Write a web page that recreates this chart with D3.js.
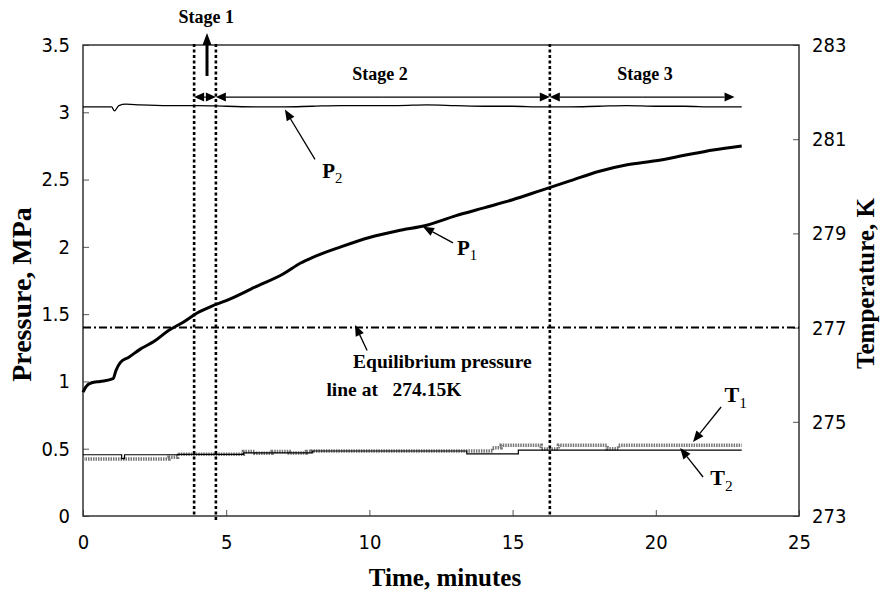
<!DOCTYPE html>
<html lang="en">
<head>
<meta charset="utf-8">
<title>Pressure and temperature vs time</title>
<script src="https://cdn.jsdelivr.net/npm/d3@7"></script>
<style>
  body { margin: 0; background: #fff; }
</style>
</head>
<body>
<script>

// -- Data -- //

// P1, reactor pressure (MPa)
let p1Time = [0, 0.1, 0.3, 0.6, 1.05, 1.15, 1.3, 1.6, 2, 2.5, 3, 3.5, 4, 4.5, 5, 6, 7, 7.6, 8, 9, 10, 11, 12, 13, 14, 15, 16, 17, 18, 19, 20, 21, 22, 23];
let p1Val  = [0.92, 0.96, 0.99, 1.0, 1.02, 1.08, 1.14, 1.18, 1.24, 1.30, 1.38, 1.44, 1.51, 1.56, 1.60, 1.70, 1.80, 1.88, 1.92, 2.0, 2.07, 2.12, 2.16, 2.23, 2.29, 2.35, 2.42, 2.49, 2.56, 2.61, 2.64, 2.68, 2.72, 2.75];

// P2, supply pressure (MPa)
let p2Time = [0, 1.0, 1.1, 1.25, 1.5, 2, 3, 4, 5, 6, 7, 8, 9, 10, 11, 12, 13, 14, 15, 16, 17, 18, 19, 20, 21, 22, 23];
let p2Val  = [3.04, 3.04, 3.01, 3.05, 3.06, 3.055, 3.05, 3.05, 3.045, 3.04, 3.04, 3.045, 3.05, 3.05, 3.05, 3.055, 3.05, 3.045, 3.045, 3.04, 3.04, 3.045, 3.05, 3.045, 3.045, 3.04, 3.04];

// T1 and T2 (K), stepped readings
let t1Time = [0, 3.0, 3.3, 5.6, 6.0, 6.6, 7.2, 7.8, 8.0, 14.3, 14.6, 16.0, 16.6, 18.3, 18.7, 23.0];
let t1Val  = [274.21, 274.25, 274.31, 274.37, 274.33, 274.37, 274.34, 274.37, 274.38, 274.45, 274.50, 274.42, 274.50, 274.43, 274.50, 274.50];
let t2Time = [0, 1.35, 1.45, 3.3, 5.6, 8.0, 13.4, 15.2, 23.0];
let t2Val  = [274.30, 274.22, 274.30, 274.31, 274.34, 274.38, 274.32, 274.40, 274.40];

let eqPressure = 1.4;
let stageBounds = [3.88, 4.64, 16.3];
let stageEnd = 22.75;
let stageNames = ["Stage 1", "Stage 2", "Stage 3"];

let timeTicks = [0, 5, 10, 15, 20, 25];
let pressureTicks = [0, 0.5, 1, 1.5, 2, 2.5, 3, 3.5];
let tempTicks = [273, 275, 277, 279, 281, 283];

// -- Setting -- //

let canvasWidth = 886;
let canvasHeight = 598;
let plotLeft = 83, plotRight = 799, plotTop = 45, plotBottom = 516;

let serif = "'Liberation Serif', 'Times New Roman', serif";
let narrow = "'DejaVu Sans Condensed', 'Liberation Sans Narrow', sans-serif";

const canvas = d3.select("body")
    .append("svg")
    .attr("width", canvasWidth)
    .attr("height", canvasHeight)
    .style("background", "#fff");

let x = d3.scaleLinear().domain([0, 25]).range([plotLeft, plotRight]);
let yP = d3.scaleLinear().domain([0, 3.5]).range([plotBottom, plotTop]);
let yT = d3.scaleLinear().domain([273, 283]).range([plotBottom, plotTop]);

// arrow with filled head at (x2, y2)
let arrow = function(g, x1, y1, x2, y2, len, wid, sw) {
    let a = Math.atan2(y2 - y1, x2 - x1);
    let bx = x2 - len * Math.cos(a), by = y2 - len * Math.sin(a);
    g.append("line")
        .attr("x1", x1).attr("y1", y1).attr("x2", bx).attr("y2", by)
        .attr("stroke", "black").attr("stroke-width", sw);
    let px = -Math.sin(a) * wid / 2, py = Math.cos(a) * wid / 2;
    g.append("path")
        .attr("d", `M${x2},${y2}L${bx + px},${by + py}L${bx - px},${by - py}Z`)
        .attr("fill", "black");
};

let styleTicks = function(g, size) {
    g.select(".domain").remove();
    g.selectAll(".tick line").attr("stroke", "#555");
    g.selectAll(".tick text")
        .attr("font-family", narrow)
        .attr("font-stretch", "condensed")
        .attr("font-size", size)
        .attr("fill", "black");
};

// -- Axes -- //

canvas.append("g")
    .attr("transform", `translate(0,${plotBottom})`)
    .call(d3.axisBottom(x).tickValues(timeTicks).tickSize(-6).tickPadding(19).tickFormat(d3.format("d")))
    .call(g => styleTicks(g, 20));

canvas.append("g")
    .attr("transform", `translate(${plotLeft},0)`)
    .call(d3.axisLeft(yP).tickValues(pressureTicks).tickSize(-6).tickPadding(13).tickFormat(d => String(d)))
    .call(g => styleTicks(g, 20));

canvas.append("g")
    .attr("transform", `translate(${plotRight},0)`)
    .call(d3.axisRight(yT).tickValues(tempTicks).tickSize(-6).tickPadding(13).tickFormat(d3.format("d")))
    .call(g => styleTicks(g, 20));

canvas.append("rect")
    .attr("x", plotLeft).attr("y", plotTop)
    .attr("width", plotRight - plotLeft).attr("height", plotBottom - plotTop)
    .attr("fill", "none").attr("stroke", "#333").attr("stroke-width", 1.5);

// axis titles
canvas.append("text")
    .attr("transform", `translate(31,${(plotTop + plotBottom) / 2 + 14}) rotate(-90)`)
    .attr("text-anchor", "middle")
    .attr("font-family", serif).attr("font-weight", "bold").attr("font-size", 28)
    .text("Pressure, MPa");

canvas.append("text")
    .attr("transform", `translate(874,${(plotTop + plotBottom) / 2 + 3}) rotate(-90)`)
    .attr("text-anchor", "middle")
    .attr("font-family", serif).attr("font-weight", "bold").attr("font-size", 25)
    .text("Temperature, K");

canvas.append("text")
    .attr("x", (plotLeft + plotRight) / 2 + 4).attr("y", 586)
    .attr("text-anchor", "middle")
    .attr("font-family", serif).attr("font-weight", "bold").attr("font-size", 25)
    .text("Time, minutes");

// -- Series -- //

let lineP = d3.line().x(d => x(d[0])).y(d => yP(d[1])).curve(d3.curveMonotoneX);
let lineT = d3.line().x(d => x(d[0])).y(d => yT(d[1])).curve(d3.curveStepAfter);

// equilibrium pressure line
canvas.append("line")
    .attr("x1", x(0)).attr("x2", x(25))
    .attr("y1", yP(eqPressure)).attr("y2", yP(eqPressure))
    .attr("stroke", "black").attr("stroke-width", 2)
    .attr("stroke-dasharray", "8,3,2,3");

canvas.append("path")
    .datum(d3.zip(t1Time, t1Val))
    .attr("d", lineT)
    .attr("fill", "none").attr("stroke", "#777").attr("stroke-width", 3.5)
    .attr("stroke-dasharray", "1.5,1");

canvas.append("path")
    .datum(d3.zip(t2Time, t2Val))
    .attr("d", lineT)
    .attr("fill", "none").attr("stroke", "black").attr("stroke-width", 1.2);

canvas.append("path")
    .datum(d3.zip(p2Time, p2Val))
    .attr("d", lineP)
    .attr("fill", "none").attr("stroke", "black").attr("stroke-width", 1.3);

canvas.append("path")
    .datum(d3.zip(p1Time, p1Val))
    .attr("d", lineP)
    .attr("fill", "none").attr("stroke", "black").attr("stroke-width", 3);

// stage boundaries (dotted)
canvas.append("g")
    .selectAll("line")
    .data(stageBounds)
    .join("line")
        .attr("x1", d => x(d)).attr("x2", d => x(d))
        .attr("y1", plotTop - 1)
        .attr("y2", (d, i) => i === 1 ? plotBottom + 6 : plotBottom - 1)
        .attr("stroke", "black").attr("stroke-width", 2.6)
        .attr("stroke-dasharray", "3,2.5");

// -- Annotations -- //

let ann = canvas.append("g");

// stage arrows
let stageEdges = [stageBounds[0], stageBounds[1], stageBounds[2], stageEnd];
let arrowY = yP(3.113);
for (let i = 0; i < 3; i++) {
    let a = x(stageEdges[i]), b = x(stageEdges[i + 1]), m = (a + b) / 2;
    arrow(ann, m, arrowY, a, arrowY, 10, 9, 1.3);
    arrow(ann, m, arrowY, b, arrowY, 10, 9, 1.3);
}

let stageLabelPos = [[4.3, 3.66], [10.37, 3.24], [19.62, 3.24]];
ann.selectAll("text.stage")
    .data(stageNames)
    .join("text")
        .attr("class", "stage")
        .attr("x", (d, i) => x(stageLabelPos[i][0]))
        .attr("y", (d, i) => yP(stageLabelPos[i][1]))
        .attr("text-anchor", "middle")
        .attr("font-family", serif).attr("font-weight", "bold").attr("font-size", 18)
        .text(d => d);

// upward arrow to "Stage 1"
arrow(ann, x(4.33), yP(3.27), x(4.33), yP(3.59), 12, 9, 3);

// curve labels with subscripts
let subLabel = function(main, sub, t, p, size) {
    let txt = ann.append("text")
        .attr("x", x(t)).attr("y", yP(p))
        .attr("font-family", serif).attr("font-size", size);
    txt.append("tspan").text(main).attr("font-weight", "bold");
    txt.append("tspan").text(sub).attr("font-size", size * 0.7).attr("dy", size * 0.25);
};

arrow(ann, x(8.1), yP(2.65), x(7.05), yP(3.02), 11, 9, 1.3);
subLabel("P", "2", 8.35, 2.51, 21);

arrow(ann, x(12.92), yP(2.03), x(11.87), yP(2.15), 11, 9, 1.3);
subLabel("P", "1", 13.06, 1.94, 21);

arrow(ann, x(22.28), yP(0.81), x(21.3), yP(0.55), 11, 9, 1.3);
subLabel("T", "1", 22.4, 0.847, 22);

arrow(ann, x(21.65), yP(0.29), x(20.85), yP(0.505), 11, 9, 1.3);
subLabel("T", "2", 21.9, 0.23, 22);

// equilibrium note
arrow(ann, x(9.92), yP(1.23), x(9.5), yP(1.42), 11, 9, 1.3);
ann.append("text")
    .attr("x", x(9.43)).attr("y", yP(1.10))
    .attr("font-family", serif).attr("font-weight", "bold").attr("font-size", 19.5)
    .text("Equilibrium pressure");
ann.append("text")
    .attr("x", x(8.5)).attr("y", yP(0.89))
    .attr("font-family", serif).attr("font-weight", "bold").attr("font-size", 19.5)
    .attr("xml:space", "preserve")
    .text("line at   274.15K");

</script>
</body>
</html>
